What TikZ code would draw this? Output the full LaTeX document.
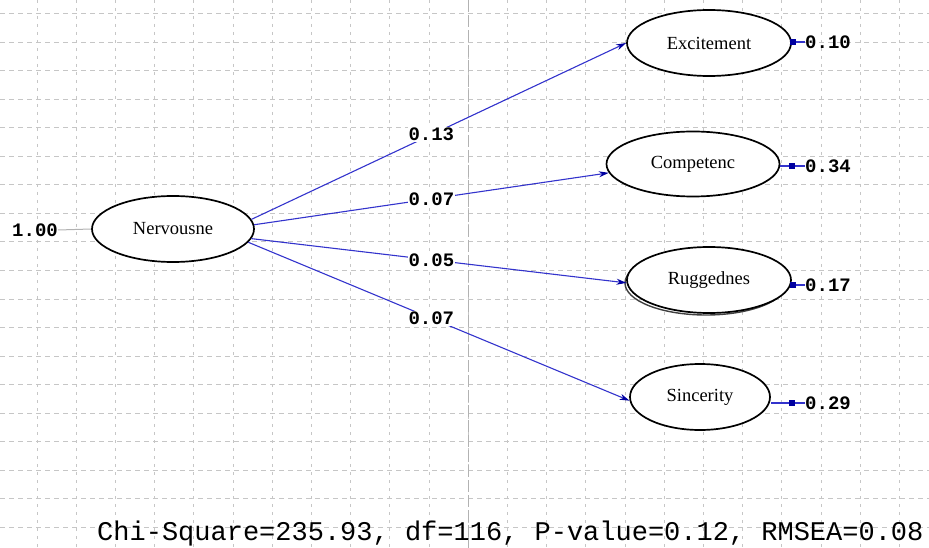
\documentclass[tikz,border=0pt]{standalone}
\usepackage{fontspec}
\setmainfont{Liberation Serif}
\setmonofont{Liberation Mono}
\usetikzlibrary{arrows.meta,shapes.geometric}
\definecolor{gridgray}{RGB}{198,198,198}
\definecolor{pathblue}{RGB}{51,51,204}
\definecolor{tipblue}{RGB}{0,0,160}
\begin{document}
\begin{tikzpicture}[x=1pt, y=-1pt,
  >={Stealth[length=10pt,width=6pt,color=tipblue]},
  latent/.style={ellipse, draw, line width=1.7pt, fill=white, inner sep=0pt,
    font=\fontsize{18.5}{20}\selectfont},
  coef/.style={fill=white, inner sep=1pt, font=\ttfamily\bfseries\fontsize{19}{20}\selectfont},
  errval/.style={anchor=west, inner sep=0pt, font=\ttfamily\bfseries\fontsize{19}{20}\selectfont},
  effect/.style={draw=pathblue, line width=1.1pt, ->},
  errpath/.style={draw=pathblue, line width=1.2pt},
  sqmark/.style={rectangle, fill=tipblue, minimum size=6pt, inner sep=0pt}]
  \useasboundingbox (0,0) rectangle (929,548);

  % Grid
  \foreach \i in {0,...,22} {
    \draw[gridgray, line width=1pt, dash pattern=on 3pt off 5pt] ({37+39.2*\i},0) -- ({37+39.2*\i},548);
  }
  \foreach \j in {0,...,18} {
    \draw[gridgray, line width=1pt, dash pattern=on 5pt off 4pt] (0,{14+28.5*\j}) -- (929,{14+28.5*\j});
  }
  \draw[gray!60, line width=1.3pt, dash pattern=on 12pt off 3pt] (468.2,0) -- (468.2,548);

  % Shadow under Ruggednes
  \draw[gray!50!black, line width=1.4pt] (706,283) ellipse (81 and 32);

  % Latent variables
  \node[latent, minimum width=162pt, minimum height=66pt] (nerv) at (173,229) {Nervousne};
  \node[latent, minimum width=164pt, minimum height=66pt] (exc) at (709,43) {Excitement};
  \node[latent, minimum width=173pt, minimum height=65pt] (comp) at (693,164) {Competenc};
  \node[latent, minimum width=164pt, minimum height=66pt] (rugg) at (709,280) {Ruggednes};
  \node[latent, minimum width=140pt, minimum height=66pt] (sinc) at (700,397) {Sincerity};

  % Paths with coefficients
  \draw[effect] (nerv.7) -- node[coef, pos=0.48] {0.13} (exc.west);
  \draw[effect] (nerv.3) -- node[coef, pos=0.5] {0.07} (comp.186);
  \draw[effect] (nerv.-7) -- node[coef, pos=0.48] {0.05} (rugg.182);
  \draw[effect] (nerv.-10) -- node[coef, pos=0.48] {0.07} (sinc.183);

  % Variances
  \node[errval] (v1) at (12,230) {1.00};
  \draw[gray!60, line width=1pt] (v1.east) -- (nerv.west);

  \node[errval] (e1) at (805,42) {0.10};
  \node[errval] (e2) at (805,166) {0.34};
  \node[errval] (e3) at (805,285) {0.17};
  \node[errval] (e4) at (805,403) {0.29};
  \draw[errpath] (e1.west) -- node[sqmark, pos=0.93] {} (e1.west -| exc.east);
  \draw[errpath] (e2.west) -- node[sqmark, pos=0.51] {} (e2.west -| comp.east);
  \draw[errpath] (e3.west) -- node[sqmark, pos=0.93] {} (e3.west -| rugg.east);
  \draw[errpath] (e4.west) -- node[sqmark, pos=0.37] {} (e4.west -| sinc.east);

  % Fit statistics
  \node[anchor=base west, inner sep=0pt, font=\ttfamily\fontsize{27}{30}\selectfont] (fit) at (97,540)
    {Chi-Square=235.93, df=116, P-value=0.12, RMSEA=0.08};
\end{tikzpicture}
\end{document}
